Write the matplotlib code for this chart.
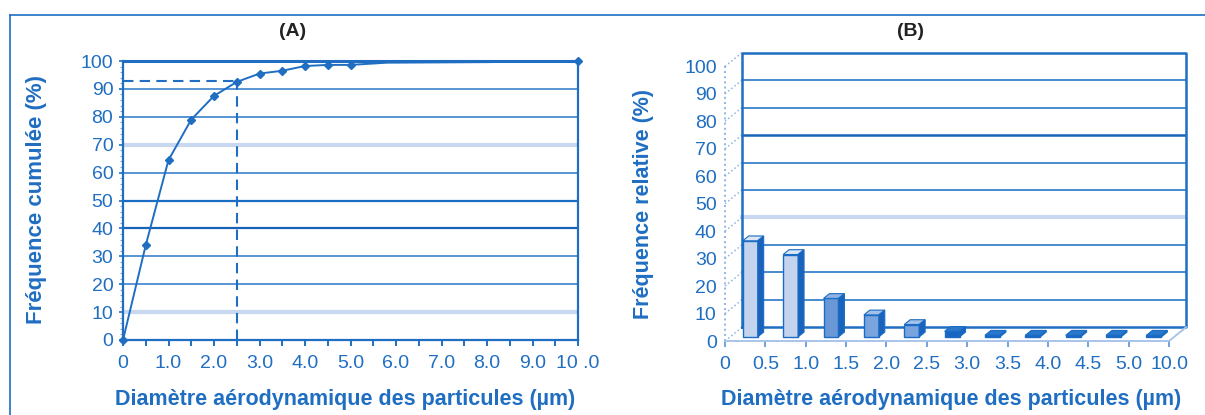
import matplotlib
matplotlib.use("Agg")
import matplotlib.pyplot as plt
from matplotlib.patches import Polygon
from matplotlib.lines import Line2D

plt.rcParams['font.family'] = ['Liberation Sans', 'DejaVu Sans']

# ---------------- data ----------------
# Panel A: cumulative frequency
cum_x = [0, 0.5, 1.0, 1.5, 2.0, 2.5, 3.0, 3.5, 4.0, 4.5, 5.0, 10.0]
cum_y = [0, 34, 64.5, 79, 87.5, 92.5, 95.5, 96.5, 98.2, 98.6, 98.6, 100]
line_x = [0, 0.5, 1.0, 1.5, 2.0, 2.5, 3.0, 3.5, 4.0, 4.5, 5.0, 5.8, 8.0, 10.0]
line_y = [0, 34, 64.5, 79, 87.5, 92.5, 95.5, 96.5, 98.2, 98.6, 98.6, 99.4, 99.6, 100]
d_cut = 2.5
p_cut = 93
a_xticks = [0, 1, 2, 3, 4, 5, 6, 7, 8, 9, 10]
a_xlabels = ['0', '1.0', '2.0', '3.0', '4.0', '5.0', '6.0', '7.0', '8.0', '9.0', '10 .0']
yticks = [0, 10, 20, 30, 40, 50, 60, 70, 80, 90, 100]

# Panel B: relative frequency per size class
b_edges_labels = ['0', '0.5', '1.0', '1.5', '2.0', '2.5', '3.0', '3.5', '4.0', '4.5', '5.0', '10.0']
b_values = [35, 30, 14, 8, 4.5, 2, 0.6, 0.6, 0.6, 0.6, 0.6]

# ---------------- style ----------------
BLUE = '#1f6ec2'
GRID = '#2a78c8'
LIGHT = '#c9d8f1'
TXT = '#1f6ec2'
TICKFS = 14
LABFS = 15.5

W, H = 1205, 415
fig = plt.figure(figsize=(W / 100, H / 100), dpi=100)

def fx(px):
    return px / W

def fy(py):
    return 1 - py / H

# outer frame
fig.add_artist(Line2D([fx(10), 1.0], [fy(15), fy(15)], transform=fig.transFigure, color=BLUE, lw=1.2))
fig.add_artist(Line2D([fx(10), fx(10)], [fy(15), 0], transform=fig.transFigure, color=BLUE, lw=1.2))

# ================= Panel A =================
axA = fig.add_axes([fx(123), fy(340), fx(578) - fx(123), fy(61) - fy(340)])
axA.set_xlim(0, 10)
axA.set_ylim(0, 100)
grid_style = {10: (LIGHT, 3.0), 70: (LIGHT, 3.0), 40: ('#1763b8', 1.6), 50: ('#1a6cc4', 1.6)}
for g in yticks[1:-1]:
    c, lw = grid_style.get(g, (GRID, 1.1))
    axA.axhline(g, color=c, lw=lw, zorder=1)
for s in axA.spines.values():
    s.set_color(BLUE)
    s.set_linewidth(1.6)
axA.spines['top'].set_linewidth(2.2)
axA.plot([0, d_cut], [p_cut, p_cut], ls=(0, (5, 3)), color=BLUE, lw=1.5, zorder=3)
axA.plot([d_cut, d_cut], [0, p_cut], ls=(0, (5, 3)), color=BLUE, lw=1.5, zorder=3)
axA.plot(line_x, line_y, color=BLUE, lw=1.4, zorder=4, clip_on=False)
axA.plot(cum_x, cum_y, ls='none', marker='D', ms=4.5, color=BLUE, zorder=5, clip_on=False)
axA.set_xticks(a_xticks)
axA.set_xticklabels(a_xlabels)
axA.set_xticks([i + 0.5 for i in range(10)], minor=True)
axA.set_yticks(yticks)
axA.set_yticks(list(range(0, 101, 2)), minor=True)
axA.tick_params(axis='x', which='both', direction='out', length=4, width=1.4, color=BLUE,
                labelcolor=TXT, labelsize=TICKFS, pad=7)
axA.tick_params(axis='y', which='major', direction='out', length=3, width=1.2, color=BLUE,
                labelcolor=TXT, labelsize=TICKFS, pad=4)
axA.tick_params(axis='y', which='minor', direction='out', length=2, width=0.8, color='#7aa6dc')

fig.text(fx(293), fy(31), '(A)', ha='center', va='center', fontsize=14, fontweight='bold', color='#222222')
fig.text(fx(345), fy(399), 'Diamètre aérodynamique des particules (µm)', ha='center', va='center',
         fontsize=LABFS, fontweight='bold', color=TXT)
fig.text(fx(37), fy(200), 'Fréquence cumulée (%)', ha='center', va='center', rotation=90,
         fontsize=16, fontweight='bold', color=TXT)

# ================= Panel B (pseudo 3D) =================
DX, DY = 0.42, 5.0
n = len(b_values)
axB = fig.add_axes([fx(725), fy(341), fx(1186) - fx(725), fy(52.7) - fy(341)])
axB.set_xlim(-0.5, n - 0.5 + DX)
axB.set_ylim(0, 100 + DY)
for s in axB.spines.values():
    s.set_visible(False)

x0w, x1w = -0.5 + DX, n - 0.5 + DX
# back wall gridlines
gB = {40: (LIGHT, 3.0), 70: ('#1763b8', 1.8)}
for g in yticks[1:-1]:
    c, lw = gB.get(g, (GRID, 1.2))
    axB.plot([x0w, x1w], [g + DY, g + DY], color=c, lw=lw, zorder=1)
# back wall frame
axB.plot([x0w, x1w, x1w, x0w, x0w], [DY, DY, 100 + DY, 100 + DY, DY], color=BLUE, lw=1.8, zorder=2,
         clip_on=False)
# left side wall: dotted
axB.plot([-0.5, -0.5], [0, 100], color='#8fb3e3', lw=1.4, ls=':', zorder=1, clip_on=False)
for g in yticks:
    axB.plot([-0.5, x0w], [g, g + DY], color='#8fb3e3', lw=1.1, ls=':', zorder=1, clip_on=False)
# floor front & right edge
axB.plot([-0.5, n - 0.5, x1w], [0, 0, DY], color='#a9c3ea', lw=1.4, zorder=2, clip_on=False)

# bars
d0, dd, bw = 0.3, 0.35, 0.37
face_cols = ['#c4d4ef', '#c4d4ef', '#6a98d6', '#7aa4dd', '#7aa4dd', '#1766c3',
             '#1766c3', '#1766c3', '#1766c3', '#1766c3', '#1766c3']
top_cols = ['#dce6f7', '#dce6f7', '#8fb2e3', '#a2c0e8', '#a2c0e8', '#2a78cc',
            '#2a78cc', '#2a78cc', '#2a78cc', '#2a78cc', '#2a78cc']
side_col = '#1a63bd'
xs = [i + d0 * DX for i in range(n)]
bars = axB.bar(xs, b_values, width=bw, bottom=d0 * DY, color=face_cols, edgecolor='#1a6cc4',
               linewidth=1.0, zorder=4)
for rect, col_t in zip(bars, top_cols):
    xl = rect.get_x()
    xr = xl + rect.get_width()
    yb = rect.get_y()
    yt = yb + rect.get_height()
    top = Polygon([(xl, yt), (xr, yt), (xr + dd * DX, yt + dd * DY), (xl + dd * DX, yt + dd * DY)],
                  closed=True, facecolor=col_t, edgecolor='#1a6cc4', lw=0.8, zorder=4)
    side = Polygon([(xr, yb), (xr, yt), (xr + dd * DX, yt + dd * DY), (xr + dd * DX, yb + dd * DY)],
                   closed=True, facecolor=side_col, edgecolor='#1a6cc4', lw=0.8, zorder=4)
    axB.add_patch(top)
    axB.add_patch(side)

axB.set_xticks([i - 0.5 for i in range(n + 1)])
axB.set_xticklabels(b_edges_labels)
axB.set_yticks(yticks)
axB.tick_params(axis='x', direction='out', length=4, width=1.2, color='#5b93d6',
                labelcolor=TXT, labelsize=TICKFS, pad=7)
axB.tick_params(axis='y', length=0, labelcolor=TXT, labelsize=TICKFS, pad=6)

fig.text(fx(910), fy(31), '(B)', ha='center', va='center', fontsize=14, fontweight='bold', color='#222222')
fig.text(fx(951), fy(399), 'Diamètre aérodynamique des particules (µm)', ha='center', va='center',
         fontsize=LABFS, fontweight='bold', color=TXT)
fig.text(fx(643), fy(204), 'Fréquence relative (%)', ha='center', va='center', rotation=90,
         fontsize=LABFS, fontweight='bold', color=TXT)

fig.savefig('out.png', dpi=100)
